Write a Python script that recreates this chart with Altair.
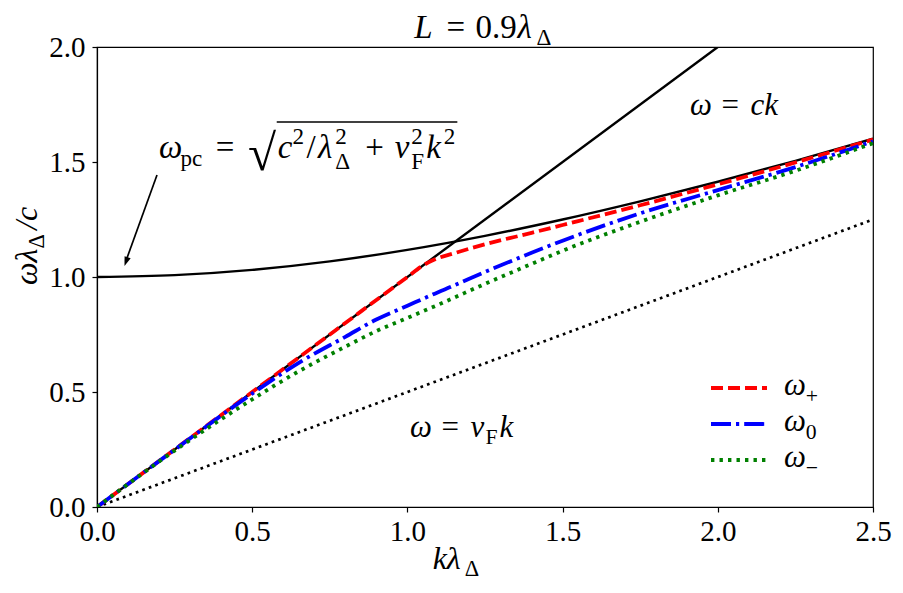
import altair as alt
import pandas as pd

# ---------------- data ----------------
k_curve = [0, 0.25, 0.5, 0.65, 0.8, 0.9, 1.0, 1.05, 1.08, 1.15, 1.25, 1.4, 1.5, 1.75, 2.0, 2.25, 2.5]
w_plus = [0, 0.25, 0.5, 0.65, 0.8, 0.9, 1.0, 1.05, 1.072, 1.103, 1.142, 1.192, 1.226, 1.312, 1.403, 1.498, 1.598]
w_zero = [0, 0.249, 0.493, 0.627, 0.74, 0.815, 0.875, 0.905, 0.923, 0.963, 1.022, 1.105, 1.158, 1.277, 1.378, 1.478, 1.590]
w_minus = [0, 0.245, 0.468, 0.59, 0.697, 0.765, 0.822, 0.851, 0.868, 0.91, 0.97, 1.057, 1.114, 1.24, 1.355, 1.462, 1.582]

k_pc = [0, 0.25, 0.5, 0.75, 1.0, 1.25, 1.5, 1.75, 2.0, 2.25, 2.5]
w_pc = [1.0, 1.008, 1.031, 1.068, 1.118, 1.179, 1.25, 1.329, 1.414, 1.505, 1.601]

k_ck = [0, 2.0]
w_ck = [0, 2.0]
k_vf = [0, 2.5]
w_vf = [0, 1.25]

x_ticks = [0, 0.5, 1.0, 1.5, 2.0, 2.5]
y_ticks = [0, 0.5, 1.0, 1.5, 2.0]

legend_subs = ["+", "0", "\u2212"]

# ---------------- layout ----------------
W, H = 776, 460
PAD_L, PAD_T, PAD_R, PAD_B = 89, 39, 22, 80
X0, Y0 = 8 + PAD_L, 8 + PAD_T
KX = W / 2.5
WY = H / 2.0
FONT = "Liberation Serif"


def kx(px):
    return (px - X0) / KX


def wy(py):
    return (Y0 + H - py) / WY


pieces = []


def run(x0, base, size, items, angle=0):
    """Lay out math pieces. items: (text, adv_em, italic, scale, rise_em, align, advance)"""
    pos = x0
    for it in items:
        text, adv, ital, sc, rise, align, advance = it
        fs = size * sc
        if text:
            off = adv * fs / 2 if align == "center" else 0
            if angle == 0:
                px, py = pos + off, base - rise * size
            else:  # reading upward
                px, py = base - rise * size, pos - off
            pieces.append(dict(k=kx(px), w=wy(py), text=text, size=fs,
                               ital=ital, ang=angle, al=align))
        if advance:
            pos = pos + adv * fs if angle == 0 else pos - adv * fs
    return pos


def P(text, adv, ital=False, sc=1.0, rise=0.0, align="left", advance=True):
    return (text, adv, ital, sc, rise, align, advance)


def SP(e):
    return P("", e)


def length(items, size):
    return sum(i[1] * size * i[3] for i in items if i[6])


# title  L = 0.9 λ_Δ
t_size = 33
t_items = [P("L", .66, True), SP(.24), P("=", .72, align="center"), SP(.24),
           P("0.9", 1.27), P("\u03bb", .58, True), P("\u0394", .833, sc=.7, rise=-.2)]
run(485 - length(t_items, t_size) / 2, 38, t_size, t_items)

# x-axis title  k λ_Δ
xl_items = [P("k\u03bb", 1.0, True), P("\u0394", .833, sc=.7, rise=-.22)]
run(458 - length(xl_items, 32) / 2, 569, 32, xl_items)

# y-axis title  ω λ_Δ / c  (rotated)
yl_items = [P("\u03c9\u03bb", 1.14, True), P("\u0394", .833, sc=.7, rise=-.22), P("/c", .9, True)]
run(243 + length(yl_items, 32) / 2, 37, 32, yl_items, angle=270)

# ω = ck
run(690, 115, 31, [P("\u03c9", .65, True), SP(.26), P("=", .778, align="center"), SP(.26),
                   P("ck", .954, True)])

# ω = v_F k
run(410, 437, 31, [P("\u03c9", .65, True), SP(.26), P("=", .778, align="center"), SP(.26),
                   P("v", .485, True), P("F", .653, sc=.7, rise=-.22), P("k", .521, True)])

# ω_pc = sqrt(c^2/λ_Δ^2 + v_F^2 k^2)
f_size = 33
RAD_W = .95
f_pre = [P("\u03c9", .65, True), P("pc", 1.0, sc=.7, rise=-.25), SP(.26),
         P("=", .778, align="center"), SP(.26)]
f_post = [P("c", .45, True), P("2", .5, sc=.7, rise=.42), P("/", .42, align="center"),
          P("\u03bb", .52, True), P("2", .833, sc=.7, rise=.42, advance=False),
          P("\u0394", .833, sc=.7, rise=-.32), SP(.222), P("+", .778, align="center"), SP(.222),
          P("v", .5, True), P("2", .653, sc=.7, rise=.42, advance=False),
          P("F", .653, sc=.7, rise=-.32), P("k", .53, True), P("2", .5, sc=.7, rise=.42)]
f_x0, f_base = 159, 158
rad_x = run(f_x0, f_base, f_size, f_pre)
f_end = run(rad_x + RAD_W * f_size, f_base, f_size, f_post)
pieces.append(dict(k=kx(rad_x + RAD_W * f_size / 2), w=wy(f_base + 12), text="\u221a",
                   size=f_size * 1.55, ital=False, ang=0, al="center"))
over = pd.DataFrame({"k": [kx(rad_x + RAD_W * f_size - 1)], "k2": [kx(f_end + 2)],
                     "w": [wy(f_base - 36)]})

# legend labels
leg_rows = [388, 424, 460]
for py, sub in zip(leg_rows, legend_subs):
    run(784, py + 7, 31, [P("\u03c9", .70, True), P(sub, .778, sc=.7, rise=-.25)])

legend_df = pd.DataFrame({"k": [kx(711)] * 3, "k2": [kx(767)] * 3,
                          "w": [wy(p) for p in leg_rows],
                          "s": ["plus", "zero", "minus"]})

# arrow
arrow_df = pd.DataFrame({"k": [kx(157)], "w": [wy(175)], "k2": [kx(127)], "w2": [wy(258)]})
head_df = pd.DataFrame({"k": [kx(124.5)], "w": [wy(266)]})

txt = pd.DataFrame(pieces)

# ---------------- chart ----------------
X = alt.X("k:Q", scale=alt.Scale(domain=[0, 2.5], nice=False, zero=False),
          axis=alt.Axis(values=x_ticks, format=".1f", title=None, labelPadding=5, labelFlush=False))
Y = alt.Y("w:Q", scale=alt.Scale(domain=[0, 2], nice=False, zero=False),
          axis=alt.Axis(values=y_ticks, format=".1f", title=None, labelPadding=7, labelFlush=False))


def line_layer(ks, ws, color, width, dash=None):
    df = pd.DataFrame({"k": ks, "w": ws})
    kw = dict(color=color, strokeWidth=width, clip=True, interpolate="monotone", strokeCap="butt")
    if dash:
        kw["strokeDash"] = dash
    return alt.Chart(df).mark_line(**kw).encode(x=X, y=Y)


CW = 3.8
layers = [
    line_layer(k_pc, w_pc, "black", 2.4),
    line_layer(k_ck, w_ck, "black", 2.4),
    line_layer(k_vf, w_vf, "black", 2.7, [2.7, 4.2]),
    line_layer(k_curve, w_plus, "#ff0000", CW, [12, 5]),
    line_layer(k_curve, w_zero, "#0000ff", CW, [20, 5, 3.2, 5]),
    line_layer(k_curve, w_minus, "#008000", CW, [3.4, 5.1]),
]

styles = {"plus": ("#ff0000", [12, 5]), "zero": ("#0000ff", [20, 5, 3.2, 5]),
          "minus": ("#008000", [3.4, 5.1])}
for s, (c, d) in styles.items():
    layers.append(alt.Chart(legend_df[legend_df["s"] == s]).mark_rule(
        color=c, strokeWidth=CW, strokeDash=d, strokeCap="butt").encode(x=X, x2="k2:Q", y=Y))

layers.append(alt.Chart(arrow_df).mark_rule(color="black", strokeWidth=1.7).encode(
    x=X, y=Y, x2="k2:Q", y2="w2:Q"))
layers.append(alt.Chart(head_df).mark_point(
    shape="M0,0L-0.42,1.2L0.42,1.2Z", size=240, angle=199.6, filled=True,
    color="black", opacity=1, strokeWidth=0).encode(x=X, y=Y))
layers.append(alt.Chart(over).mark_rule(color="black", strokeWidth=1.4).encode(
    x=X, x2="k2:Q", y=Y))

for ital in (True, False):
    for ang in (0, 270):
        for al in ("left", "center"):
            sub = txt[(txt["ital"] == ital) & (txt["ang"] == ang) & (txt["al"] == al)]
            if len(sub) == 0:
                continue
            kw = dict(font=FONT, align=al, baseline="alphabetic", color="black")
            if ital:
                kw["fontStyle"] = "italic"
            if ang:
                kw["angle"] = ang
            layers.append(alt.Chart(sub[["k", "w", "text", "size"]]).mark_text(**kw).encode(
                x=X, y=Y, text="text:N", size=alt.Size("size:Q", scale=None)))

chart = alt.layer(*layers).properties(
    width=W, height=H,
    autosize=alt.AutoSizeParams(type="none"),
    padding={"left": PAD_L, "top": PAD_T, "right": PAD_R, "bottom": PAD_B},
).configure_view(stroke="black", strokeWidth=1.2).configure_axis(
    grid=False, domainColor="black", domainWidth=1.2, tickColor="black", tickWidth=1.2,
    tickSize=5, labelFont=FONT, labelFontSize=29, labelColor="black",
).configure_axisX(labelBaseline="top").configure_axisY(labelBaseline="middle")

chart.save("out.html", embed_options={"renderer": "svg", "actions": False})
